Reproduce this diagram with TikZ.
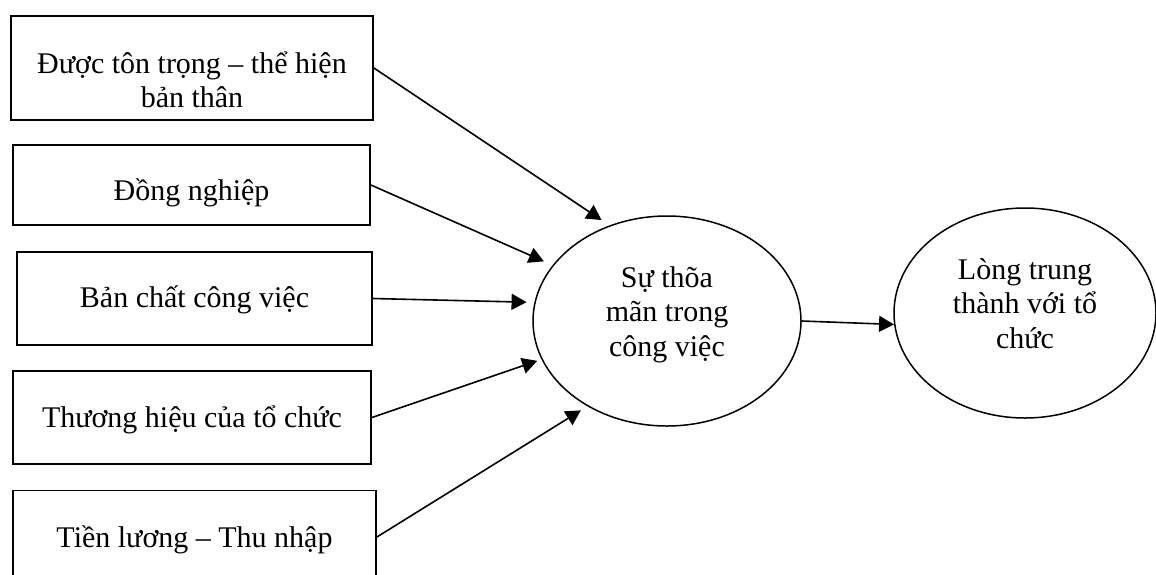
\documentclass[tikz,border=0pt]{standalone}
\usepackage{fontspec}
\setmainfont{Liberation Serif}
\usetikzlibrary{shapes.geometric,arrows.meta}

\begin{document}
\begin{tikzpicture}[x=1pt,y=-1pt,
  factor/.style={draw,line width=1.8pt,rectangle,inner sep=0pt,align=center,
    font=\fontsize{30}{34}\selectfont,text depth=0pt},
  outcome/.style={draw,line width=1.5pt,ellipse,inner sep=0pt,align=center,
    font=\fontsize{30}{34.5}\selectfont,text depth=0pt},
  link/.style={line width=1.6pt,-{Triangle[length=15pt,width=16pt]}}]
\useasboundingbox (0,0) rectangle (1156,574);

% factors on the left (text height places the last baseline below the centre)
\node[factor,minimum width=362pt,minimum height=104pt,text height=78pt]
  (b1) at (192,68) {Được tôn trọng – thể hiện\\bản thân};
\node[factor,minimum width=357pt,minimum height=80pt,text height=30pt]
  (b2) at (191.5,185) {Đồng nghiệp};
\node[factor,minimum width=355pt,minimum height=93pt,text height=17pt]
  (b3) at (194.5,298.5) {Bản chất công việc};
\node[factor,minimum width=358pt,minimum height=93pt,text height=19pt]
  (b4) at (192,417.5) {Thương hiệu của tổ chức};
\node[factor,minimum width=363pt,minimum height=93pt,text height=20pt]
  (b5) at (194.5,537) {Tiền lương – Thu nhập};

% satisfaction and loyalty
\node[outcome,minimum width=268pt,minimum height=210pt,text height=70pt]
  (e1) at (667,321) {Sự thõa\\mãn trong\\công việc};
\node[outcome,minimum width=262pt,minimum height=210pt,text height=70pt]
  (e2) at (1025,313) {Lòng trung\\thành với tổ\\chức};

% effects
\draw[link,shorten >=9.6pt] (b1.east) -- (e1.121.4);
\draw[link,shorten >=9.5pt] (b2.east) -- (e1.154);
\draw[link,shorten >=7.8pt] (b3.east) -- (e1.172.6);
\draw[link,shorten >=4.5pt] (b4.east) -- (e1.197.3);
\draw[link,shorten >=7.7pt] (b5.east) -- (e1.227.2);
\draw[link] (e1.east) -- (e2.185);
\end{tikzpicture}
\end{document}
